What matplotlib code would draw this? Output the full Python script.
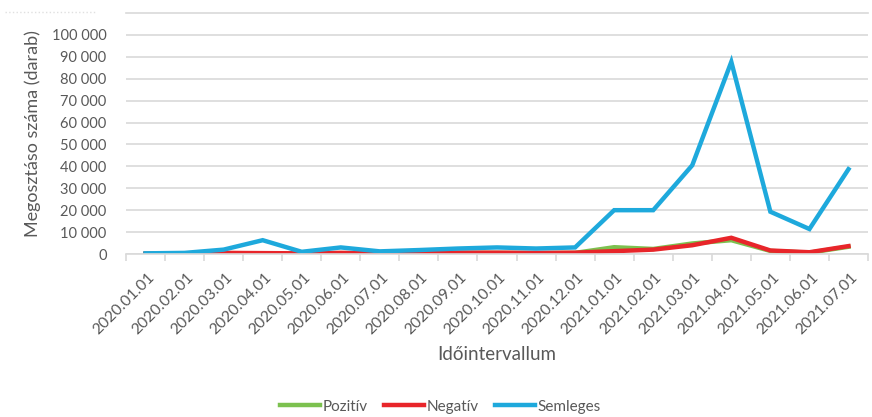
import numpy as np
import matplotlib
matplotlib.use("Agg")
import matplotlib.pyplot as plt
import matplotlib.transforms as mtransforms
from matplotlib.lines import Line2D

plt.rcParams['font.family'] = ['Lato', 'DejaVu Sans']

dates = ["2020.01.01", "2020.02.01", "2020.03.01", "2020.04.01", "2020.05.01",
         "2020.06.01", "2020.07.01", "2020.08.01", "2020.09.01", "2020.10.01",
         "2020.11.01", "2020.12.01", "2021.01.01", "2021.02.01", "2021.03.01",
         "2021.04.01", "2021.05.01", "2021.06.01", "2021.07.01"]

pozitiv = [100, 200, 400, 300, 200, 400, 300, 300, 500, 500,
           400, 500, 3100, 2300, 4800, 6300, 1400, 600, 3300]
negativ = [100, 200, 500, 400, 300, 500, 300, 400, 600, 600,
           500, 600, 1300, 2000, 4000, 7400, 1600, 800, 3600]
semleges = [300, 500, 2000, 6300, 1000, 3000, 1200, 1800, 2500, 3000,
            2500, 3000, 20000, 20000, 40500, 87700, 19300, 11400, 38700]

yticks = list(range(0, 100001, 10000))

txt = '#595959'
grid = '#d9d9d9'

fig = plt.figure(figsize=(8.72, 4.17), dpi=100)
ax = fig.add_axes([126 / 872, 1 - 254 / 417, 742 / 872, 241 / 417])

x = np.arange(len(dates))
ax.plot(x, pozitiv, color='#7cc14f', lw=3.2, label='Pozitív', solid_joinstyle='miter')
ax.plot(x, negativ, color='#e8252a', lw=3.2, label='Negatív', solid_joinstyle='miter')
ax.plot(x, semleges, color='#1ea9dc', lw=3.2, label='Semleges', solid_joinstyle='miter')

ax.set_xlim(-0.5, len(dates) - 0.5)
ax.set_ylim(0, 110000)
ax.set_yticks(yticks)
ax.set_yticklabels([f"{v:,}".replace(",", " ") for v in yticks], color=txt, fontsize=10.5)
ax.yaxis.grid(True, color=grid, lw=1.2)
ax.set_axisbelow(True)
ax.tick_params(axis='y', length=0, pad=14)

ax.set_xticks(x)
ax.set_xticklabels(dates, rotation=45, ha='right', va='center', rotation_mode='anchor',
                   color=txt, fontsize=11.3)
ax.set_xticks(np.arange(-0.5, len(dates)), minor=True)
ax.tick_params(axis='x', which='major', length=0, pad=0)
ax.tick_params(axis='x', which='minor', length=5, color=grid, width=1.2)
# shift labels like Excel: right end a bit right of category center, below axis
offset = mtransforms.ScaledTranslation(6.5 / 100, -21 / 100, fig.dpi_scale_trans)
for lbl in ax.get_xticklabels():
    lbl.set_transform(lbl.get_transform() + offset)

for s in ['left', 'right']:
    ax.spines[s].set_visible(False)
ax.spines['bottom'].set_color(grid)
ax.spines['bottom'].set_linewidth(1.2)
ax.spines['top'].set_color(grid)
ax.spines['top'].set_linewidth(1.2)

ax.set_ylabel("Megosztáso száma (darab)", color=txt, fontsize=13, labelpad=8)
ax.set_xlabel("Időintervallum", color=txt, fontsize=13.5, labelpad=0)
ax.xaxis.set_label_coords(0.5, -0.38)

# faint dotted line at the top left corner of the picture
fig.add_artist(Line2D([5 / 872, 95 / 872], [1 - 12 / 417, 1 - 12 / 417],
                      color='#e0e0e0', lw=1, ls=':'))

fig.legend(loc='center', bbox_to_anchor=(0.505, 0.025), ncol=3, frameon=False,
           fontsize=11, labelcolor=txt, handlelength=2.6, handletextpad=0.15,
           columnspacing=1.1)
for h in fig.legends[0].get_lines():
    h.set_linewidth(3.2)

fig.savefig("out.png", dpi=100)
